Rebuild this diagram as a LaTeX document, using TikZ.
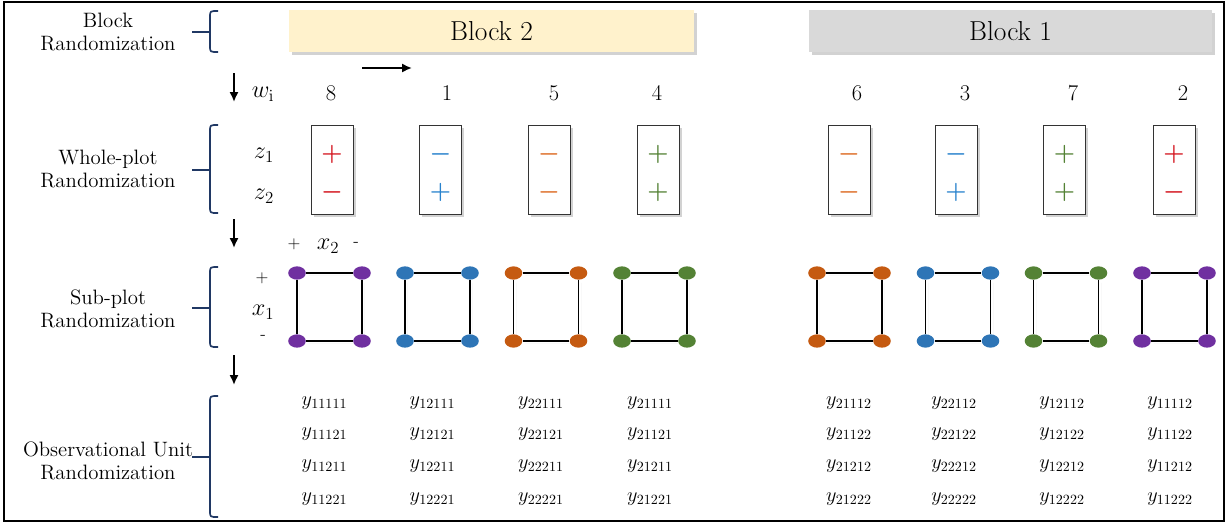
\documentclass[tikz,border=0pt]{standalone}
\usepackage{amsmath}
\usetikzlibrary{shapes.geometric,shadows,arrows.meta}

\definecolor{navy}{RGB}{32,56,100}
\definecolor{baryellow}{RGB}{255,242,204}
\definecolor{bargray}{RGB}{217,217,217}
\definecolor{sred}{RGB}{212,20,30}
\definecolor{sblue}{RGB}{40,130,205}
\definecolor{sorange}{RGB}{222,110,40}
\definecolor{sgreen}{RGB}{84,130,53}
\definecolor{vpurple}{RGB}{112,48,160}
\definecolor{vblue}{RGB}{46,117,182}
\definecolor{vorange}{RGB}{197,90,17}

\begin{document}
\begin{tikzpicture}
	[x = 0.025cm, y = -0.025cm,
	lift/.style = {drop shadow = {shadow xshift = 2pt, shadow yshift = -2pt, opacity = 0.25, fill = black!70}},
	title/.style = {font = \fontsize{19.5}{22}\selectfont},
	lbl/.style = {font = \fontsize{14.8}{16.5}\selectfont, align = center},
	brace/.style = {draw = navy, line width = 1.2pt},
	down/.style = {-{Latex[length = 7pt, width = 6.5pt]}, line width = 1.6pt},
	num/.style = {font = \fontsize{16}{18}\selectfont},
	var/.style = {font = \fontsize{18}{20}\selectfont},
	pm/.style = {font = \fontsize{12}{14}\selectfont},
	sbox/.style = {draw = black!80, line width = 0.6pt, fill = white, lift},
	sign/.style = {font = \fontsize{19}{20}\selectfont\boldmath},
	vtx/.style = {ellipse, inner sep = 0, minimum width = 12.5pt, minimum height = 9.5pt},
	side/.style = {line width = 1pt, lift},
	obs/.style = {font = \fontsize{14}{16}\selectfont}]
	\useasboundingbox (0,0) rectangle (1228,527);
	\draw [line width = 1.4pt] (4,2) rectangle (1224,521);
	\fill [lift, fill = baryellow] (289,10) rectangle (694,52);
	\fill [lift, fill = bargray] (809,10) rectangle (1212,52);
	\node [title] (blk2) at (491.5,31) {Block 2};
	\node [title] (blk1) at (1010.5,31) {Block 1};
	\node [lbl] (rblock) at (108,32) {Block\\Randomization};
	\node [lbl] (rwhole) at (108,169) {Whole-plot\\Randomization};
	\node [lbl] (rsub) at (108,309) {Sub-plot\\Randomization};
	\node [lbl] (robs) at (108,461) {Observational Unit\\Randomization};
	\foreach \ya/\ym/\yb in {11/32/52, 125/170/213, 267/308/347, 396/457/517}
	{
		\draw [brace] (218,\ya) .. controls (210,\ya) .. (210,\ya+6) -- (210,\yb-6) .. controls (210,\yb) .. (218,\yb);
		\draw [brace] (192,\ym) -- (210,\ym);
	}
	\foreach \ya/\yb [count=\k] in {73/102, 219/248, 355/385}
	{
		\coordinate (d\k) at (234,\ya);
		\coordinate (e\k) at (234,\yb);
		\draw [down] (d\k) -- (e\k);
	}
	\coordinate (h1) at (362,68);
	\coordinate (h2) at (412,68);
	\draw [down] (h1) -- (h2);
	\node [var] (wi) at (263,94) {$w_{\mathrm{i}}$};
	\node [var] (z1) at (264,155) {$z_1$};
	\node [var] (z2) at (264,196) {$z_2$};
	\node [var] (x2) at (328,246) {$x_2$};
	\node [pm] (x2p) at (294,244) {+};
	\node [pm] (x2m) at (356,244) {-};
	\node [var] (x1) at (263,312) {$x_1$};
	\node [pm] (x1p) at (262,278) {+};
	\node [pm] (x1m) at (263,337) {-};
	\foreach \nx/\cx/\w/\col/\za/\zb [count=\i] in {331/332/8/sred/+/-, 447/440.5/1/sblue/-/+, 554/549/5/sorange/-/-, 657/658/4/sgreen/+/+, 857/849/6/sorange/-/-, 965/956/3/sblue/-/+, 1073/1064.5/7/sgreen/+/+, 1183/1174/2/sred/+/-}
	{
		\node [num] (n\i) at (\nx,93) {\w};
		\draw [sbox] (\cx-21,125) rectangle (\cx+21,214);
		\node [sign, text = \col] (za\i) at (\cx,154) {$\za$};
		\node [sign, text = \col] (zb\i) at (\cx,192) {$\zb$};
	}
	\foreach \cx/\col [count=\i] in {329.5/vpurple, 437.5/vblue, 546/vorange, 654.5/sgreen, 849.5/vorange, 958/vblue, 1066/sgreen, 1174.5/vpurple}
	{
		\node [vtx, fill = \col] (tl\i) at (\cx-32.5,273) {};
		\node [vtx, fill = \col] (tr\i) at (\cx+32.5,273) {};
		\node [vtx, fill = \col] (bl\i) at (\cx-32.5,341) {};
		\node [vtx, fill = \col] (br\i) at (\cx+32.5,341) {};
		\draw [side] (tl\i) -- (tr\i) -- (br\i) -- (bl\i) -- (tl\i);
	}
	\foreach \cx/\ab/\e [count=\i] in {324.5/11/1, 432.5/12/1, 541/22/1, 650/21/1, 849/21/2, 954/22/2, 1062/12/2, 1170/11/2}
		\foreach \ry/\cd [count=\j] in {403/11, 434/12, 466/21, 499/22}
			\node [obs] (y\i\j) at (\cx,\ry) {$y_{\ab\cd\e}$};
\end{tikzpicture}
\end{document}
